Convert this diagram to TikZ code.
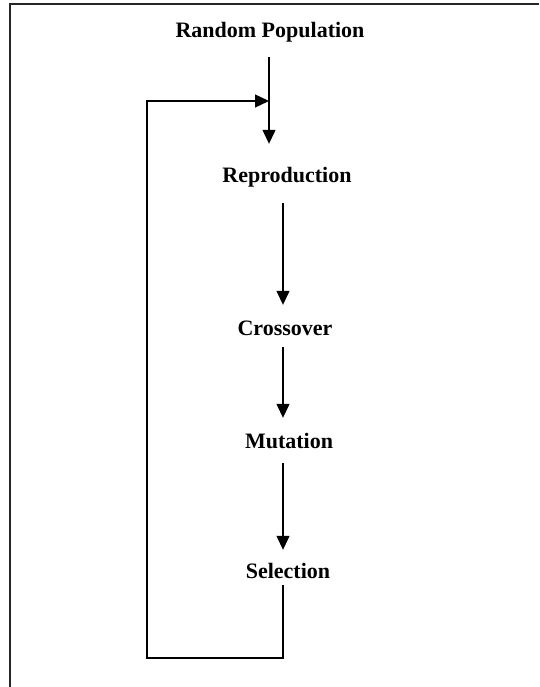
\documentclass[tikz,border=0pt]{standalone}
\usepackage{fontspec}
\setmainfont{Liberation Serif}
\usetikzlibrary{arrows.meta}
\begin{document}
\begin{tikzpicture}[x=1pt,y=-1pt,
  label/.style={inner sep=0pt, text height=15pt, text depth=4pt,
    font=\fontsize{22}{26}\selectfont\bfseries},
  flow/.style={line width=1.3pt, -{Triangle[length=14pt,width=13pt]}},
  frameline/.style={line width=1.4pt, draw=black!85}]
  \useasboundingbox (0,0) rectangle (539,687);
  % frame along the top and left edges
  \draw[frameline] (539,4) -- (10,4) -- (10,687);

  % steps of the loop
  \node[label] (rp)    at (270,32)  {Random Population};
  \node[label] (repro) at (287,177) {Reproduction};
  \node[label] (cross) at (285,330) {Crossover};
  \node[label] (mut)   at (289,443) {Mutation};
  \node[label] (sel)   at (288,573) {Selection};

  % columns of the vertical connectors and corners of the return path
  \coordinate (tx) at (269,0);
  \coordinate (mx) at (283,0);
  \coordinate (br) at (283,658);
  \coordinate (bl) at (147,658);
  \coordinate (tl) at (147,101);

  \draw[flow, shorten <=15.5pt, shorten >=23.5pt] (rp.south -| tx) -- (repro.north -| tx);
  \draw[flow, shorten <=16.5pt, shorten >=15.5pt] (repro.south -| mx) -- (cross.north -| mx);
  \draw[flow, shorten <=7.5pt, shorten >=15.5pt] (cross.south -| mx) -- (mut.north -| mx);
  \draw[flow, shorten <=10.5pt, shorten >=13.5pt] (mut.south -| mx) -- (sel.north -| mx);

  % return path back to the top
  \draw[flow, shorten <=2.5pt] (sel.south -| mx) -- (br) -- (bl) -- (tl) -- (tl -| tx);
\end{tikzpicture}
\end{document}
